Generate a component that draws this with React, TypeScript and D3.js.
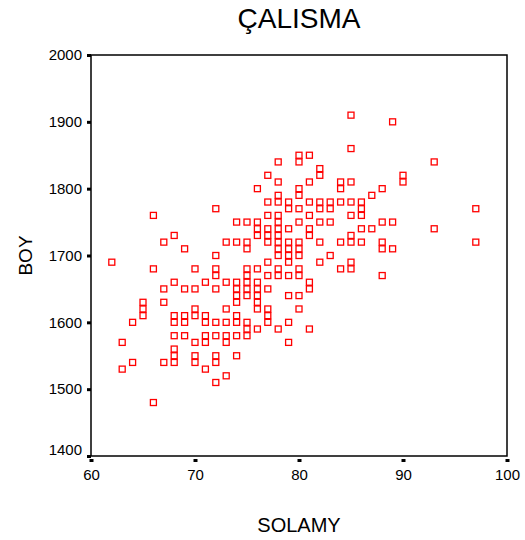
import React, { useEffect, useRef } from 'react';
import * as d3 from 'd3';

// SOLAMY (x) and BOY (y), grouped by BOY value
const solamy = [
  85, 89, 85,
  80, 81,
  78, 80, 93,
  82,
  77, 82, 90,
  78, 81, 84, 85, 90,
  76, 80, 84, 88,
  78, 80, 87,
  77, 78, 79, 81, 82, 83, 84, 85, 86,
  72, 79, 80, 82, 83, 86, 97,
  66, 77, 78, 81, 85, 86,
  74, 75, 76, 78, 80, 82, 83, 88, 89,
  76, 77, 78, 79, 81, 86, 87, 93,
  68, 76, 77, 78, 81, 85,
  67, 73, 74, 75, 77, 78, 79, 80, 82, 84, 85, 86, 88, 97,
  69, 75, 78, 79, 80, 88, 89,
  72, 78, 79, 80, 83,
  62, 77, 79, 82, 85,
  66, 70, 72, 75, 76, 78, 80, 84, 85,
  72, 75, 77, 78, 79, 80, 88,
  68, 71, 73, 74, 75, 76, 81,
  67, 69, 70, 72, 74, 75, 76, 77, 81,
  74, 75, 76, 79, 80,
  65, 67, 74, 76,
  65, 70, 73, 76, 77, 80,
  65, 68, 69, 70, 71, 74, 77,
  64, 68, 69, 71, 72, 73, 74, 75, 77, 79,
  75, 76, 78, 81,
  68, 69, 71, 72, 73, 74, 75,
  63, 70, 71, 73, 79,
  68,
  68, 70, 72, 74,
  64, 67, 68, 70, 72,
  63, 71,
  73,
  72,
  66,
];

const boy = [
  1910, 1900, 1860,
  1850, 1850,
  1840, 1840, 1840,
  1830,
  1820, 1820, 1820,
  1810, 1810, 1810, 1810, 1810,
  1800, 1800, 1800, 1800,
  1790, 1790, 1790,
  1780, 1780, 1780, 1780, 1780, 1780, 1780, 1780, 1780,
  1770, 1770, 1770, 1770, 1770, 1770, 1770,
  1760, 1760, 1760, 1760, 1760, 1760,
  1750, 1750, 1750, 1750, 1750, 1750, 1750, 1750, 1750,
  1740, 1740, 1740, 1740, 1740, 1740, 1740, 1740,
  1730, 1730, 1730, 1730, 1730, 1730,
  1720, 1720, 1720, 1720, 1720, 1720, 1720, 1720, 1720, 1720, 1720, 1720, 1720, 1720,
  1710, 1710, 1710, 1710, 1710, 1710, 1710,
  1700, 1700, 1700, 1700, 1700,
  1690, 1690, 1690, 1690, 1690,
  1680, 1680, 1680, 1680, 1680, 1680, 1680, 1680, 1680,
  1670, 1670, 1670, 1670, 1670, 1670, 1670,
  1660, 1660, 1660, 1660, 1660, 1660, 1660,
  1650, 1650, 1650, 1650, 1650, 1650, 1650, 1650, 1650,
  1640, 1640, 1640, 1640, 1640,
  1630, 1630, 1630, 1630,
  1620, 1620, 1620, 1620, 1620, 1620,
  1610, 1610, 1610, 1610, 1610, 1610, 1610,
  1600, 1600, 1600, 1600, 1600, 1600, 1600, 1600, 1600, 1600,
  1590, 1590, 1590, 1590,
  1580, 1580, 1580, 1580, 1580, 1580, 1580,
  1570, 1570, 1570, 1570, 1570,
  1560,
  1550, 1550, 1550, 1550,
  1540, 1540, 1540, 1540, 1540,
  1530, 1530,
  1520,
  1510,
  1480,
];

const xTicks = [60, 70, 80, 90, 100];
const yTicks = [1400, 1500, 1600, 1700, 1800, 1900, 2000];

const font = "Arial, 'Liberation Sans', sans-serif";

const useD3 = (render: (svg: any) => void, deps: any[]) => {
  const ref = useRef<SVGSVGElement>(null);
  useEffect(() => {
    render(d3.select(ref.current));
  }, deps);
  return ref;
};

const Scatter = () => {
  const ref = useD3((svg) => {
    const width = 525;
    const height = 540;
    const margin = { top: 55, right: 18, bottom: 84, left: 91 };

    const x = d3.scaleLinear().domain([60, 100]).range([margin.left, width - margin.right]);
    const y = d3.scaleLinear().domain([1400, 2000]).range([height - margin.bottom, margin.top]);

    svg.selectAll('*').remove();

    svg.append('text')
      .attr('x', (margin.left + width - margin.right) / 2)
      .attr('y', 28)
      .attr('text-anchor', 'middle')
      .attr('font-family', font)
      .attr('font-size', 28)
      .text('ÇALISMA');

    svg.append('rect')
      .attr('x', margin.left)
      .attr('y', margin.top)
      .attr('width', width - margin.right - margin.left)
      .attr('height', height - margin.bottom - margin.top)
      .attr('fill', 'none')
      .attr('stroke', '#000')
      .attr('stroke-width', 1.5);

    const yAxis = (g: any) => g
      .attr('transform', `translate(${margin.left},0)`)
      .call(d3.axisLeft(y).tickValues(yTicks).tickSize(4).tickPadding(5).tickFormat(d3.format('d')))
      .call((g: any) => g.select('.domain').remove())
      .call((g: any) => g.selectAll('.tick line').attr('stroke', '#000').attr('stroke-width', 3))
      .call((g: any) => g.selectAll('.tick text')
        .attr('fill', '#000').attr('font-family', font).attr('font-size', 15))
      // bottom label sits a little above its tick, clear of the x labels
      .call((g: any) => g.selectAll('.tick text').filter((d: number) => d === 1400).attr('dy', '-0.1em'));

    const xAxis = (g: any) => g
      .attr('transform', `translate(0,${height - margin.bottom + 3})`)
      .call(d3.axisBottom(x).tickValues(xTicks).tickSize(3).tickPadding(7).tickFormat(d3.format('d')))
      .call((g: any) => g.select('.domain').remove())
      .call((g: any) => g.selectAll('.tick line').attr('stroke', '#000').attr('stroke-width', 4))
      .call((g: any) => g.selectAll('.tick text')
        .attr('fill', '#000').attr('font-family', font).attr('font-size', 15));

    svg.append('g').call(yAxis);
    svg.append('g').call(xAxis);

    svg.append('g')
      .selectAll('rect')
      .data(d3.range(solamy.length))
      .join('rect')
      .attr('x', (i: number) => x(solamy[i]) - 3)
      .attr('y', (i: number) => y(boy[i]) - 3)
      .attr('width', 6)
      .attr('height', 6)
      .attr('fill', 'none')
      .attr('stroke', '#ff0000')
      .attr('stroke-width', 1.3);

    svg.append('text')
      .attr('x', (margin.left + width - margin.right) / 2)
      .attr('y', 532)
      .attr('text-anchor', 'middle')
      .attr('font-family', font)
      .attr('font-size', 20)
      .text('SOLAMY');

    svg.append('text')
      .attr('transform', `translate(32,${(margin.top + height - margin.bottom) / 2}) rotate(-90)`)
      .attr('text-anchor', 'middle')
      .attr('font-family', font)
      .attr('font-size', 19)
      .text('BOY');
  }, []);

  return (
    <svg
      ref={ref}
      width={525}
      height={540}
      style={{ position: 'absolute', left: 0, top: 0, background: '#fff' }}
    />
  );
};

export default function App() {
  return <Scatter />;
}
